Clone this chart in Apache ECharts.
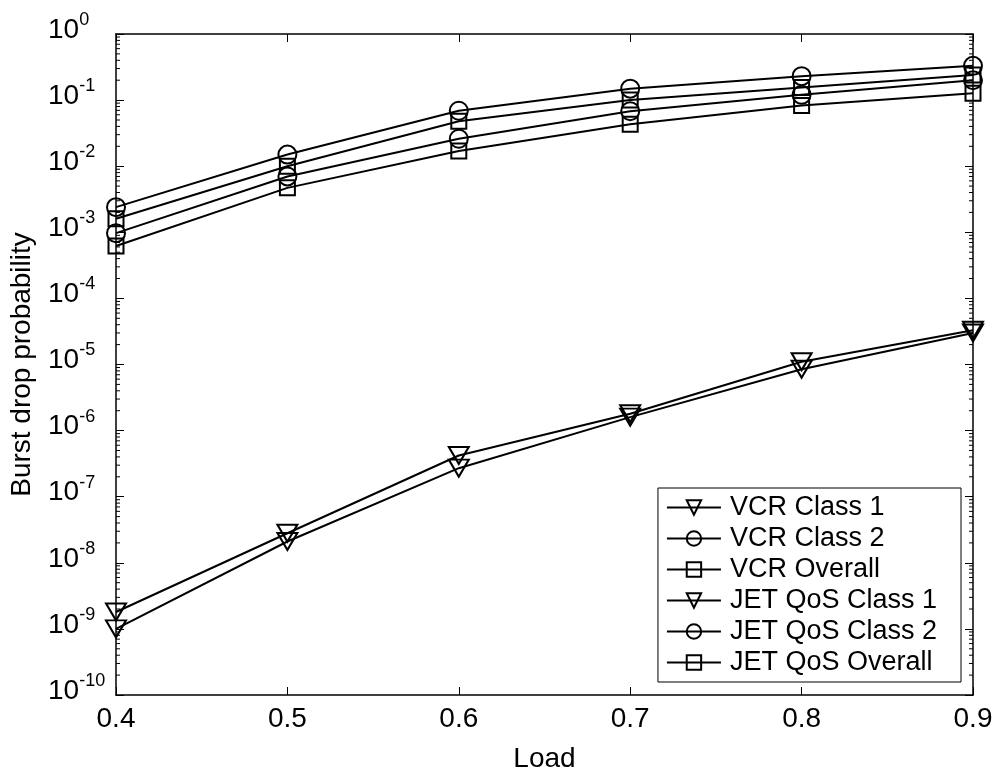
<!DOCTYPE html>
<html>
<head>
<meta charset="utf-8">
<script src="https://cdn.jsdelivr.net/npm/echarts@6/dist/echarts.min.js"></script>
<style>
  html, body { margin: 0; padding: 0; background: #fff; }
  #chart { width: 999px; height: 778px; }
</style>
</head>
<body>
<div id="chart"></div>
<script>
// load values on the x axis
var loads = [0.4, 0.5, 0.6, 0.7, 0.8, 0.9];

// burst drop probability
var vcrClass1  = [1.8e-9, 2.8e-8, 4.2e-7, 1.8e-6, 1.1e-5, 3.3e-5];
var vcrClass2  = [2.4e-3, 1.5e-2, 6.9e-2, 1.49e-1, 2.3e-1, 3.3e-1];
var vcrOverall = [1.6e-3, 1.0e-2, 4.8e-2, 1.0e-1, 1.55e-1, 2.4e-1];
var jetClass1  = [1.0e-9, 2.1e-8, 2.7e-7, 1.6e-6, 8.5e-6, 3.0e-5];
var jetClass2  = [9.7e-4, 7.0e-3, 2.6e-2, 6.8e-2, 1.2e-1, 2.0e-1];
var jetOverall = [6.2e-4, 4.7e-3, 1.7e-2, 4.3e-2, 8.3e-2, 1.27e-1];

var seriesNames = ['VCR Class 1', 'VCR Class 2', 'VCR Overall',
                   'JET QoS Class 1', 'JET QoS Class 2', 'JET QoS Overall'];

// y axis decades (10^-10 .. 10^0) and log minor tick multipliers
var decades = [1e-10, 1e-9, 1e-8, 1e-7, 1e-6, 1e-5, 1e-4, 1e-3, 1e-2, 1e-1];
var minorSteps = [2, 3, 4, 5, 6, 7, 8, 9];

var FONT = '"Liberation Sans", Arial, sans-serif';
var triDown = 'path://M0,0 L20,0 L10,17 Z';

var minorTicks = [];
for (var i = 0; i < decades.length; i++) {
	for (var j = 0; j < minorSteps.length; j++) {
		minorTicks.push([0.4, decades[i] * minorSteps[j]]);
	}
}

function pairs(vals) {
	var out = [];
	for (var k = 0; k < loads.length; k++) {
		out.push([loads[k], vals[k]]);
	}
	return out;
}

function lineSeries(name, vals, symbol, size) {
	return {
		name: name,
		type: 'line',
		data: pairs(vals),
		symbol: symbol,
		symbolSize: size,
		showAllSymbol: true,
		lineStyle: { color: '#000', width: 2 },
		itemStyle: { color: 'rgba(0,0,0,0)', borderColor: '#000', borderWidth: 2 },
		emphasis: { disabled: true },
		z: 3
	};
}

var chart = echarts.init(document.getElementById('chart'));

var option = {
	animation: false,
	backgroundColor: '#fff',
	textStyle: { fontFamily: FONT, color: '#000' },
	grid: { left: 115, right: 26, top: 34, bottom: 67, containLabel: false },
	legend: {
		data: seriesNames,
		orient: 'vertical',
		right: 38,
		bottom: 96,
		padding: [6, 24, 6, 8],
		itemWidth: 54,
		itemHeight: 18,
		itemGap: 4,
		backgroundColor: '#fff',
		borderColor: '#000',
		borderWidth: 1,
		borderRadius: 0,
		textStyle: { fontFamily: FONT, fontSize: 27, color: '#000', padding: [0, 0, 0, 4] },
		selectedMode: false
	},
	xAxis: [{
		type: 'value',
		position: 'bottom',
		min: 0.4,
		max: 0.9,
		interval: 0.1,
		name: 'Load',
		nameLocation: 'middle',
		nameGap: 50,
		nameTextStyle: { fontFamily: FONT, fontSize: 28, color: '#000' },
		axisLine: { show: true, lineStyle: { color: '#000', width: 1.5 } },
		axisTick: { show: true, inside: true, length: 8, lineStyle: { color: '#000' } },
		axisLabel: {
			fontFamily: FONT, fontSize: 28, color: '#000', margin: 10,
			formatter: function (v) { return v.toFixed(1); }
		},
		splitLine: { show: false }
	}, {
		type: 'value',
		position: 'top',
		min: 0.4,
		max: 0.9,
		interval: 0.1,
		axisLine: { show: true, lineStyle: { color: '#000', width: 1.5 } },
		axisTick: { show: true, inside: true, length: 8, lineStyle: { color: '#000' } },
		axisLabel: { show: false },
		splitLine: { show: false }
	}],
	yAxis: [{
		type: 'log',
		logBase: 10,
		position: 'left',
		min: 1e-10,
		max: 1,
		interval: 1,
		name: 'Burst drop probability',
		nameLocation: 'middle',
		nameGap: 80,
		nameTextStyle: { fontFamily: FONT, fontSize: 28, color: '#000' },
		axisLine: { show: true, lineStyle: { color: '#000', width: 1.5 } },
		axisTick: { show: true, inside: true, length: 8, lineStyle: { color: '#000' } },
		axisLabel: {
			align: 'left',
			margin: 68,
			formatter: function (v) {
				var e = Math.round(Math.log(v) / Math.LN10);
				return '{b|10}{e|' + e + '}';
			},
			rich: {
				b: { fontFamily: FONT, fontSize: 28, lineHeight: 28, color: '#000', padding: [0, 0, 8, 0] },
				e: { fontFamily: FONT, fontSize: 18, lineHeight: 18, color: '#000', padding: [0, 0, 28, 0] }
			}
		},
		splitLine: { show: false }
	}, {
		type: 'log',
		logBase: 10,
		position: 'right',
		min: 1e-10,
		max: 1,
		interval: 1,
		axisLine: { show: true, lineStyle: { color: '#000', width: 1.5 } },
		axisTick: { show: true, inside: true, length: 8, lineStyle: { color: '#000' } },
		axisLabel: { show: false },
		splitLine: { show: false }
	}],
	series: [
		lineSeries(seriesNames[0], vcrClass1, triDown, [20, 17]),
		lineSeries(seriesNames[1], vcrClass2, 'circle', 18),
		lineSeries(seriesNames[2], vcrOverall, 'rect', 15),
		lineSeries(seriesNames[3], jetClass1, triDown, [20, 17]),
		lineSeries(seriesNames[4], jetClass2, 'circle', 18),
		lineSeries(seriesNames[5], jetOverall, 'rect', 15),
		{
			// log minor ticks on left and right frame edges
			name: 'minorTicks',
			type: 'custom',
			silent: true,
			data: minorTicks,
			renderItem: function (params, api) {
				var v = api.value(1);
				var pl = api.coord([0.4, v]);
				var pr = api.coord([0.9, v]);
				return {
					type: 'group',
					children: [
						{ type: 'line', shape: { x1: pl[0], y1: pl[1], x2: pl[0] + 4, y2: pl[1] }, style: { stroke: '#000', lineWidth: 1 } },
						{ type: 'line', shape: { x1: pr[0], y1: pr[1], x2: pr[0] - 4, y2: pr[1] }, style: { stroke: '#000', lineWidth: 1 } }
					]
				};
			},
			z: 1
		}
	]
};

chart.setOption(option);
</script>
</body>
</html>
